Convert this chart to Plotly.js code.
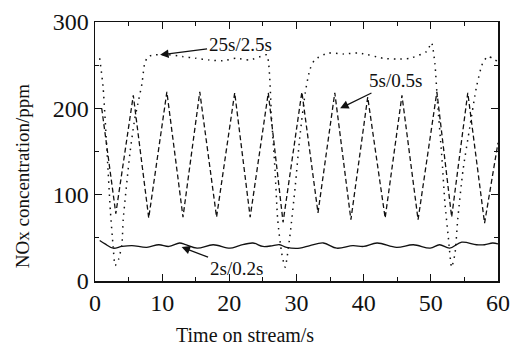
<!DOCTYPE html>
<html>
<head>
<meta charset="utf-8">
<script src="https://cdn.plot.ly/plotly-3.0.1.min.js"></script>
<style>html,body{margin:0;padding:0;background:#fff;}#chart{width:512px;height:345px;}</style>
</head>
<body>
<div id="chart"></div>
<script>
// 2s/0.2s (solid)
const tFast = [0.7,1.5,2.7,4,5.5,7.7,9.5,11,12.6,13.5,15.2,17.6,20.1,21.5,23.5,25,26.5,27.5,28.5,30.5,32,34,36,38.4,40,42,44.9,47.4,49.9,51.3,52.8,54.6,56.8,58,59.2,60];
const vFast = [47,43,38,40,41,39,42,40,44,42,38,42,38,41,44,40,41,42,39,38,41,44,38,41,40,44,39,42,38,42,38,45,42,42,44,43];
// 5s/0.5s (dashed)
const tMid = [1.0,3.1,5.7,8.0,10.7,13.1,15.6,18.1,20.8,23.1,25.8,28.0,30.8,33.2,35.7,38.1,40.6,43.2,45.7,48.1,50.9,53.1,55.5,58.0,60];
const vMid = [200,78,215,73,219,74,219,74,218,74,218,68,219,79,218,71,213,73,215,71,219,74,218,67,160];
// 25s/2.5s (dotted)
const tSlow = [0.7,1.2,1.8,2.3,2.7,3.0,3.5,4.0,4.2,5.2,5.9,6.4,7.0,7.4,7.9,9,11,13,15,17,19,21,23,25,25.6,26.3,26.8,27.2,27.8,28.3,29,29.8,30.5,31.3,32,32.7,34.7,37,39.4,42.9,45,46.9,49.4,50.1,50.6,51,51.6,52.1,52.6,53.1,53.6,54,54.8,55.8,56.8,57.7,58.5,60];
const vSlow = [258,225,148,80,40,18,25,42,71,148,187,206,229,252,260,262,262,260,258,256,255,258,256,261,262,187,129,71,32,16,51,109,167,218,245,256,264,263,264,258,257,258,266,276,252,206,148,90,51,16,32,71,129,178,225,252,260,254];

const xTicks = [0,10,20,30,40,50,60];
const yTicks = [0,100,200,300];
const labels = ["25s/2.5s","5s/0.5s","2s/0.2s"];
const xTitle = 'Time on stream/s';
const yTitle = 'NOx concentration/ppm';

const ink = '#111';
const traces = [
  {x:tFast, y:vFast, mode:'lines', line:{color:ink, width:1.3, shape:'spline', smoothing:1}, hoverinfo:'skip'},
  {x:tMid, y:vMid, mode:'lines', line:{color:ink, width:1.3, dash:'5px,3px'}, hoverinfo:'skip'},
  {x:tSlow, y:vSlow, mode:'lines', line:{color:ink, width:1.5, dash:'1.5px,5px', shape:'spline', smoothing:0.6}, hoverinfo:'skip'}
];

const serif = 'Liberation Serif, Times New Roman, serif';
const axisCommon = {
  showgrid:false, zeroline:false, showline:true, linecolor:ink, linewidth:1.5,
  mirror:'ticks', ticks:'inside', ticklen:7, tickwidth:1.2, tickcolor:ink,
  tickfont:{family:serif, size:24, color:ink}
};

const arrowStyle = {showarrow:true, arrowhead:2, arrowsize:1.3, arrowwidth:1.3, arrowcolor:ink,
  axref:'x', ayref:'y', font:{family:serif, size:19, color:ink}};

const layout = {
  width:512, height:345,
  margin:{l:95, r:14, t:22, b:64},
  paper_bgcolor:'#fff', plot_bgcolor:'#fff',
  showlegend:false,
  xaxis: Object.assign({}, axisCommon, {
    range:[0,60], tickvals:xTicks, ticktext:xTicks.map(String),
    minor:{dtick:5, tick0:0, ticks:'inside', ticklen:4, tickcolor:ink, tickwidth:1}
  }),
  yaxis: Object.assign({}, axisCommon, {
    range:[0,300], tickvals:yTicks, ticktext:yTicks.map(String),
    minor:{dtick:50, tick0:0, ticks:'inside', ticklen:4, tickcolor:ink, tickwidth:1}
  }),
  annotations:[
    Object.assign({x:9.7, y:262, ax:21.6, ay:273.5, text:labels[0]}, arrowStyle),
    Object.assign({x:36.5, y:200, ax:44.8, ay:231.7, text:labels[1]}, arrowStyle),
    Object.assign({x:12.9, y:39.4, ax:21.0, ay:15, text:labels[2]}, arrowStyle),
    {xref:'paper', yref:'paper', x:0.372, y:-0.208, xanchor:'center', yanchor:'middle', showarrow:false,
     text:xTitle, font:{family:serif, size:20, color:ink}},
    {xref:'paper', yref:'paper', x:-0.181, y:0.405, xanchor:'center', yanchor:'middle', showarrow:false,
     textangle:-90, text:yTitle, font:{family:serif, size:19, color:ink}}
  ]
};

Plotly.newPlot('chart', traces, layout, {staticPlot:true, displayModeBar:false});
</script>
</body>
</html>
